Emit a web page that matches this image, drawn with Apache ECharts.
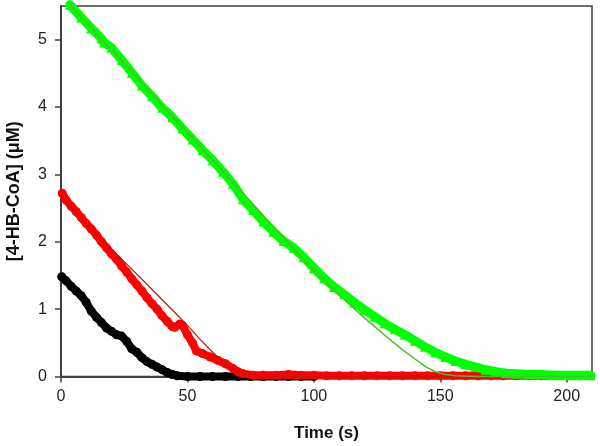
<!DOCTYPE html>
<html>
<head>
<meta charset="utf-8">
<script src="https://cdn.jsdelivr.net/npm/echarts@6/dist/echarts.min.js"></script>
<style>html,body{margin:0;padding:0;background:#fff;}#c{width:600px;height:446px;}</style>
</head>
<body>
<div id="c"></div>
<script>
// x ticks / y ticks
var xTicks = [0, 50, 100, 150, 200];
var yTicks = [0, 1, 2, 3, 4, 5];

// Black series (data), time (s) and [4-HB-CoA] (uM)
var blackT = [0.3, 2, 4, 6, 8, 10, 12, 14, 16, 18, 20, 22, 24, 26, 28, 30, 32, 34, 36, 38, 40, 42, 44, 46, 50, 55, 60, 65, 70, 75, 80, 85, 90, 95, 100];
var blackY = [1.48, 1.42, 1.34, 1.27, 1.20, 1.10, 0.97, 0.88, 0.80, 0.72, 0.67, 0.62, 0.60, 0.52, 0.41, 0.36, 0.28, 0.22, 0.18, 0.14, 0.10, 0.06, 0.03, 0.01, 0.0, 0.0, 0.0, 0.0, 0.0, 0.0, 0.0, 0.0, 0.0, 0.0, 0.0];

// Red series (data)
var redT = [0.5, 2, 4, 6, 8, 10, 12, 14, 16, 18, 20, 22, 24, 26, 28, 30, 32, 34, 36, 38, 40, 42, 44, 45, 47, 48, 50, 52, 53.5, 56, 59, 62, 65, 68, 70, 72, 76, 80, 85, 90, 95, 100, 105, 110, 115, 120, 125, 130, 135, 140, 145, 150, 155, 160, 165, 170, 175, 180, 185, 190, 195, 200, 205, 209.5];
var redY = [2.72, 2.62, 2.53, 2.45, 2.36, 2.27, 2.19, 2.10, 2.00, 1.91, 1.82, 1.74, 1.64, 1.55, 1.45, 1.36, 1.27, 1.17, 1.08, 1.00, 0.90, 0.82, 0.74, 0.73, 0.78, 0.76, 0.62, 0.50, 0.38, 0.34, 0.29, 0.24, 0.19, 0.12, 0.07, 0.04, 0.02, 0.02, 0.02, 0.03, 0.02, 0.02, 0.01, 0.01, 0.01, 0.01, 0.01, 0.01, 0.01, 0.01, 0.01, 0.01, 0.01, 0.01, 0.01, 0.01, 0.01, 0.01, 0.01, 0.01, 0.01, 0.01, 0.01, 0.01];

// Red fit
var redFitT = [0.5, 10, 20, 30, 40, 45, 50, 55, 60, 63, 66, 69, 72, 75, 80, 210];
var redFitY = [2.64, 2.27, 1.89, 1.52, 1.14, 0.95, 0.76, 0.55, 0.36, 0.25, 0.16, 0.09, 0.04, 0.015, 0.0, 0.0];

// Green series (data)
var greenT = [3.5, 8, 12, 16, 17, 20, 24, 28, 32, 36, 40, 44, 48, 52, 56, 60, 64, 68, 72, 76, 80, 84, 88, 92, 96, 100, 104, 108, 112, 116, 120, 124, 128, 132, 136, 140, 144, 148, 152, 156, 160, 164, 168, 172, 176, 180, 185, 190, 195, 200, 205, 209.5];
var greenY = [5.52, 5.33, 5.17, 5.02, 4.96, 4.88, 4.70, 4.51, 4.32, 4.16, 3.99, 3.85, 3.68, 3.52, 3.36, 3.21, 3.04, 2.86, 2.63, 2.47, 2.30, 2.15, 2.01, 1.91, 1.77, 1.61, 1.46, 1.33, 1.22, 1.10, 0.99, 0.89, 0.79, 0.70, 0.62, 0.53, 0.44, 0.36, 0.29, 0.23, 0.18, 0.14, 0.10, 0.07, 0.05, 0.04, 0.03, 0.03, 0.02, 0.02, 0.02, 0.02];

// Green fit
var greenFitT = [3.5, 20, 40, 60, 80, 100, 105, 110, 115, 120, 125, 130, 135, 140, 144, 148, 152, 156, 165, 210];
var greenFitY = [5.52, 4.85, 4.03, 3.21, 2.39, 1.57, 1.39, 1.21, 1.04, 0.87, 0.71, 0.55, 0.40, 0.26, 0.15, 0.07, 0.03, 0.01, 0.0, 0.0];

function pairs(t, y) { return t.map(function (v, i) { return [v, y[i]]; }); }

var font = '"Liberation Sans", Arial, sans-serif';
var axisColor = '#404040';

var chart = echarts.init(document.getElementById('c'), null, {renderer: 'canvas'});
chart.setOption({
  animation: false,
  backgroundColor: '#ffffff',
  grid: {left: 61, right: 8, top: 6, bottom: 69.5, containLabel: false, outerBoundsMode: 'none',
         show: true, borderColor: axisColor, borderWidth: 1.5, backgroundColor: 'transparent'},
  xAxis: {
    type: 'value', min: 0, max: 210, interval: 50,
    name: 'Time (s)', nameLocation: 'middle', nameGap: 48,
    nameTextStyle: {fontFamily: font, fontSize: 17, fontWeight: 'bold', color: '#111'},
    axisLine: {show: true, onZero: false, lineStyle: {color: axisColor, width: 2}},
    axisTick: {show: true, inside: false, length: 6, customValues: xTicks, lineStyle: {color: axisColor, width: 1.5}},
    axisLabel: {fontFamily: font, fontSize: 16, color: '#222', margin: 12, customValues: xTicks},
    splitLine: {show: false}
  },
  yAxis: {
    type: 'value', min: 0, max: 5.5, interval: 1,
    name: '[4-HB-CoA] (\u03bcM)', nameLocation: 'middle', nameGap: 38, nameRotate: 90,
    nameTextStyle: {fontFamily: font, fontSize: 18, fontWeight: 'bold', color: '#111'},
    axisLine: {show: true, onZero: false, lineStyle: {color: axisColor, width: 2}},
    axisTick: {show: true, inside: false, length: 6, customValues: yTicks, lineStyle: {color: axisColor, width: 1.5}},
    axisLabel: {fontFamily: font, fontSize: 16, color: '#222', margin: 14, customValues: yTicks},
    splitLine: {show: false}
  },
  series: [
    {type: 'line', name: 'black', data: pairs(blackT, blackY), clip: false, symbol: 'circle', symbolSize: 9, showAllSymbol: true,
     itemStyle: {color: '#000000'}, lineStyle: {color: '#000000', width: 8, join: 'round', cap: 'round'}, z: 2},
    {type: 'line', name: 'red', data: pairs(redT, redY), clip: false, symbol: 'circle', symbolSize: 9, showAllSymbol: true,
     itemStyle: {color: '#ff0000'}, lineStyle: {color: '#ff0000', width: 8, join: 'round', cap: 'round'}, z: 3},
    {type: 'line', name: 'red fit', data: pairs(redFitT, redFitY), clip: false, symbol: 'none',
     lineStyle: {color: '#c81010', width: 1.2}, z: 4},
    {type: 'line', name: 'green', data: pairs(greenT, greenY), clip: false, symbol: 'triangle', symbolSize: 10, showAllSymbol: true,
     itemStyle: {color: '#00ff00'}, lineStyle: {color: '#00ff00', width: 9, join: 'round', cap: 'round'}, z: 5},
    {type: 'line', name: 'green fit', data: pairs(greenFitT, greenFitY), clip: false, symbol: 'none',
     lineStyle: {color: '#4cbf2a', width: 1.5}, z: 6}
  ]
});
</script>
</body>
</html>
